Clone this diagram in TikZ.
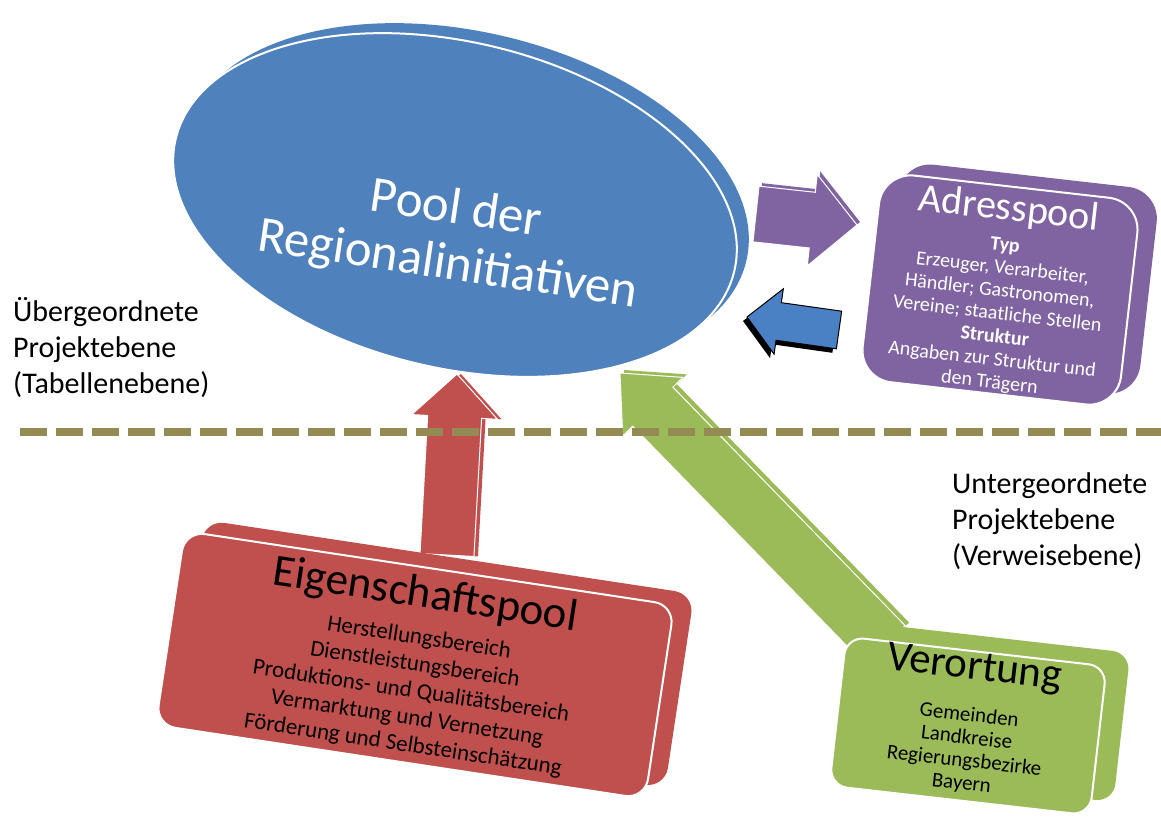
\documentclass[tikz,border=0pt]{standalone}
\usepackage{fontspec}
\setmainfont{Carlito}
\usetikzlibrary{calc,shapes.geometric}
\definecolor{poolblue}{RGB}{79,129,189}
\definecolor{adrpurple}{RGB}{128,100,162}
\definecolor{eigred}{RGB}{192,80,77}
\definecolor{ortgreen}{RGB}{155,187,89}
\definecolor{dashbrown}{RGB}{148,138,84}
\definecolor{backblue}{RGB}{74,128,196}
\tikzstyle{poolshape}=[shape=ellipse, inner sep=0, minimum width=574pt, minimum height=326pt, fill=poolblue]
\tikzstyle{boxback}=[shape=rectangle, inner sep=0]
\tikzstyle{boxface}=[shape=rectangle, inner sep=0, draw=white, line width=2pt]
\tikzstyle{levellabel}=[align=left, inner sep=0, font=\fontsize{30}{36}\selectfont]
% block arrow: tail, tip, half shaft, half head, head length, style
\newcommand{\blockarrow}[6]{%
  \path ($(#2)!#5!(#1)$) coordinate (ab);
  \fill[#6] ($(#1)!#3!90:(#2)$) -- ($(ab)!#3!90:(#2)$) -- ($(ab)!#4!90:(#2)$) -- (#2)
    -- ($(ab)!#4!-90:(#2)$) -- ($(ab)!#3!-90:(#2)$) -- ($(#1)!#3!-90:(#2)$) -- cycle;}

\begin{document}
\begin{tikzpicture}[x=1pt, y=-1pt]
\useasboundingbox (0,0) rectangle (1161,828);
% pool of initiatives
\draw (467,195) node[poolshape, rotate=-13.3](pool-back) {};
\draw (455,205) node[poolshape, draw=white, line width=2pt, rotate=-13.3](pool) {};
\draw (452,238) node[rotate=-8.5, align=center, text=white, font=\fontsize{51}{56}\selectfont](pool-text) {Pool der\\Regionalinitiativen};
% arrows
\coordinate (to-adr) at (756,214);
\coordinate (to-adr-tip) at (857,225);
\coordinate (from-adr) at (839,330);
\coordinate (from-adr-tip) at (747,317);
\coordinate (eig-out) at (447,555);
\coordinate (eig-out-tip) at (457,374);
\coordinate (ort-out) at (885,645);
\coordinate (ort-out-tip) at (620,373);
\begin{scope}[transform canvas={xshift=3pt, yshift=3pt}]
\blockarrow{to-adr}{to-adr-tip}{28pt}{46pt}{45pt}{adrpurple}
\end{scope}
\blockarrow{to-adr}{to-adr-tip}{28pt}{46pt}{45pt}{adrpurple, draw=white, line width=1pt}
\begin{scope}[transform canvas={xshift=-4pt, yshift=-4pt}]
\blockarrow{from-adr}{from-adr-tip}{19pt}{33pt}{32pt}{black}
\end{scope}
\blockarrow{from-adr}{from-adr-tip}{19pt}{33pt}{32pt}{backblue, draw=black, line width=1pt}
\begin{scope}[transform canvas={xshift=4pt}]
\blockarrow{eig-out}{eig-out-tip}{27pt}{43pt}{43pt}{eigred}
\end{scope}
\blockarrow{eig-out}{eig-out-tip}{27pt}{43pt}{43pt}{eigred, draw=white, line width=1pt}
\begin{scope}[transform canvas={xshift=4pt, yshift=3pt}]
\blockarrow{ort-out}{ort-out-tip}{28pt}{42pt}{47pt}{ortgreen}
\end{scope}
\blockarrow{ort-out}{ort-out-tip}{28pt}{42pt}{47pt}{ortgreen, draw=white, line width=1pt}
% address pool
\begin{scope}[shift={(1000,290)}, rotate=-6.5, transform shape]
\draw (18,-13) node[boxback, fill=adrpurple, minimum width=260pt, minimum height=208pt, rounded corners=32pt](adr-back) {};
\draw (0,0) node[boxface, fill=adrpurple, minimum width=260pt, minimum height=208pt, rounded corners=32pt](adr) {};
\draw (0,-70) node[anchor=base, inner sep=0, text=white, font=\fontsize{40}{44}\selectfont](adr-title) {Adresspool};
\draw (0,25) node[align=center, inner sep=0, text=white, font=\fontsize{20}{23}\selectfont](adr-text) {{\bfseries Typ}\\Erzeuger, Verarbeiter,\\Händler; Gastronomen,\\Vereine; staatliche Stellen\\{\bfseries Struktur}\\Angaben zur Struktur und\\den Trägern};
\end{scope}
% properties pool
\begin{scope}[shift={(415,665)}, rotate=-8.6, transform shape]
\draw (18,-14) node[boxback, fill=eigred, minimum width=495pt, minimum height=196pt, rounded corners=20pt](eig-back) {};
\draw (0,0) node[boxface, fill=eigred, minimum width=495pt, minimum height=196pt, rounded corners=20pt](eig) {};
\draw (0,-58) node[anchor=base, inner sep=0, font=\fontsize{45}{50}\selectfont](eig-title) {Eigenschaftspool};
\draw (0,27) node[align=center, inner sep=0, font=\fontsize{23}{27}\selectfont](eig-text) {Herstellungsbereich\\Dienstleistungsbereich\\Produktions- und Qualitätsbereich\\Vermarktung und Vernetzung\\Förderung und Selbsteinschätzung};
\end{scope}
% location
\begin{scope}[shift={(968,726)}, rotate=-6.5, transform shape]
\draw (22,-16) node[boxback, fill=ortgreen, minimum width=262pt, minimum height=150pt, rounded corners=18pt](ort-back) {};
\draw (0,0) node[boxface, fill=ortgreen, minimum width=262pt, minimum height=150pt, rounded corners=18pt](ort) {};
\draw (0,-47) node[anchor=base, inner sep=0, font=\fontsize{43}{48}\selectfont](ort-title) {Verortung};
\draw (0,24) node[align=center, inner sep=0, font=\fontsize{21}{23}\selectfont](ort-text) {Gemeinden\\Landkreise\\Regierungsbezirke\\Bayern};
\end{scope}
% levels
\coordinate (split-l) at (20,432);
\coordinate (split-r) at (1161,432);
\draw[dashbrown, line width=8pt, dash pattern=on 27pt off 9pt] (split-l) -- (split-r);
\draw (13,297) node[levellabel, anchor=north west](upper) {Übergeordnete\\Projektebene\\(Tabellenebene)};
\draw (952,472) node[levellabel, anchor=north west](lower) {Untergeordnete\\Projektebene\\(Verweisebene)};
\end{tikzpicture}
\end{document}
